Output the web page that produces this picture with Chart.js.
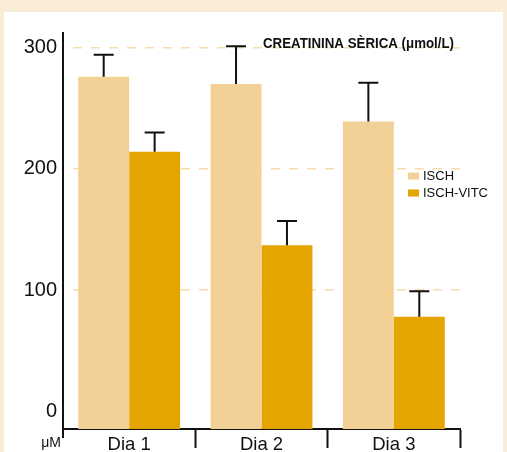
<!DOCTYPE html>
<html>
<head>
<meta charset="utf-8">
<script src="https://cdn.jsdelivr.net/npm/chart.js@4/dist/chart.umd.min.js"></script>
<style>
  html, body { margin: 0; padding: 0; }
  body { width: 507px; height: 452px; background: #faedd8; position: relative; overflow: hidden; }
  #panel { position: absolute; left: 4px; top: 12px; width: 499px; height: 440px; background: #ffffff; }
  #chart { position: absolute; left: 0; top: 0; }
</style>
</head>
<body>
<div id="panel"></div>
<canvas id="chart" width="507" height="452"></canvas>
<script>
// Serum creatinine (µmol/L) by day, mean and SD
const categories = ['Dia 1', 'Dia 2', 'Dia 3'];
const seriesNames = ['ISCH', 'ISCH-VITC'];
const ischMean = [276, 270, 239];
const ischSD = [18, 31, 32];
const vitcMean = [214, 137, 78];
const vitcSD = [16, 20, 21];
const yTicks = [0, 100, 200, 300];
const chartTitle = 'CREATININA SÈRICA (μmol/L)';
const unitLabel = 'μM';

const FONT = "'Liberation Sans', Arial, Helvetica, sans-serif";
const Y_MIN = -14.5;
const Y_MAX = 312;

Chart.defaults.font.family = FONT;
Chart.defaults.color = '#111';

// Upper error whiskers on each bar
const errorBars = {
  id: 'errorBars',
  afterDatasetsDraw(chart) {
    const ctx = chart.ctx;
    const y = chart.scales.y;
    ctx.save();
    ctx.strokeStyle = '#111';
    ctx.lineWidth = 2;
    chart.data.datasets.forEach((ds, di) => {
      const meta = chart.getDatasetMeta(di);
      meta.data.forEach((bar, i) => {
        const top = y.getPixelForValue(ds.data[i] + ds.sd[i]);
        ctx.beginPath();
        ctx.moveTo(bar.x, bar.y);
        ctx.lineTo(bar.x, top);
        ctx.moveTo(bar.x - 10, top);
        ctx.lineTo(bar.x + 10, top);
        ctx.stroke();
      });
    });
    ctx.restore();
  }
};

// Title, legend and unit label drawn inside the plot
const annotations = {
  id: 'annotations',
  afterDraw(chart) {
    const ctx = chart.ctx;
    const area = chart.chartArea;
    ctx.save();
    ctx.fillStyle = '#111';
    // condensed bold heading, right-aligned near the top of the plot
    ctx.font = 'bold 15px ' + FONT;
    ctx.textAlign = 'right';
    ctx.textBaseline = 'alphabetic';
    const w = ctx.measureText(chartTitle).width;
    const targetW = 191;
    const sx = targetW / w;
    ctx.save();
    ctx.translate(area.right - 6, 48);
    ctx.scale(sx, 1);
    ctx.fillText(chartTitle, 0, 0);
    ctx.restore();

    ctx.font = '13px ' + FONT;
    ctx.textAlign = 'left';
    ctx.textBaseline = 'middle';
    chart.data.datasets.forEach((ds, i) => {
      const cy = 176 + i * 17;
      ctx.fillStyle = ds.backgroundColor;
      ctx.fillRect(408, cy - 3.5, 11, 7);
      ctx.fillStyle = '#111';
      ctx.fillText(ds.label, 423, cy);
    });

    ctx.font = '14px ' + FONT;
    ctx.textAlign = 'right';
    ctx.textBaseline = 'alphabetic';
    ctx.fillText(unitLabel, area.left - 2, 447);

    // short downward extension of the value axis below the baseline
    ctx.strokeStyle = '#111';
    ctx.lineWidth = 2;
    ctx.beginPath();
    ctx.moveTo(area.left, area.bottom);
    ctx.lineTo(area.left, area.bottom + 9);
    ctx.stroke();
    ctx.restore();
  }
};

new Chart(document.getElementById('chart'), {
  type: 'bar',
  data: {
    labels: categories,
    datasets: [
      { label: seriesNames[0], data: ischMean, sd: ischSD, backgroundColor: '#f3d196', base: Y_MIN },
      { label: seriesNames[1], data: vitcMean, sd: vitcSD, backgroundColor: '#e4a500', base: Y_MIN }
    ]
  },
  options: {
    responsive: false,
    animation: false,
    devicePixelRatio: 1,
    layout: { padding: { left: 0, top: 33, right: 47, bottom: 0 } },
    plugins: { legend: { display: false }, tooltip: { enabled: false } },
    datasets: { bar: { categoryPercentage: 0.77, barPercentage: 1.0 } },
    scales: {
      x: {
        offset: true,
        afterFit(scale) { scale.height = 23; },
        grid: {
          offset: true,
          drawOnChartArea: false,
          drawTicks: true,
          tickLength: 19,
          tickWidth: 2,
          tickColor: (c) => (c.index === 0 ? 'rgba(0,0,0,0)' : '#111'),
          color: '#111'
        },
        border: { display: true, color: '#111', width: 2 },
        ticks: { color: '#111', font: { size: 18.5 }, padding: -14, maxRotation: 0 }
      },
      y: {
        min: Y_MIN,
        max: Y_MAX,
        afterFit(scale) { scale.width = 63; },
        afterBuildTicks(scale) { scale.ticks = yTicks.map(v => ({ value: v })); },
        grid: {
          drawTicks: false,
          lineWidth: 1.5,
          color: (c) => (c.tick && c.tick.value > 0 ? '#f6dcae' : 'rgba(0,0,0,0)')
        },
        border: { display: true, color: '#111', width: 2, dash: [9, 9], dashOffset: 9 },
        ticks: { color: '#111', font: { size: 20 }, padding: 6 }
      }
    }
  },
  plugins: [errorBars, annotations]
});
</script>
</body>
</html>
